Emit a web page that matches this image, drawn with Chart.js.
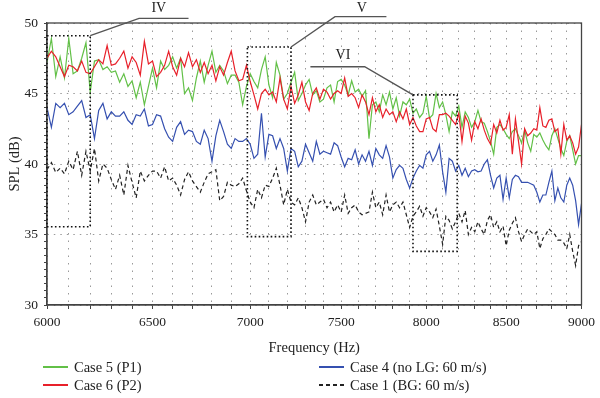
<!DOCTYPE html>
<html>
<head>
<meta charset="utf-8">
<script src="https://cdn.jsdelivr.net/npm/chart.js@4.4.0/dist/chart.umd.min.js"></script>
<style>
  html, body { margin: 0; padding: 0; background: #fff; }
  #wrap { position: relative; width: 600px; height: 398px; }
  #legend { position: absolute; left: 0; top: 0; width: 600px; height: 398px; pointer-events: none;
            font-family: "Liberation Serif", "DejaVu Serif", serif; font-size: 14.5px; color: #222; }
  .item { position: absolute; display: flex; align-items: center; height: 16px; white-space: nowrap; }
  .swatch { display: inline-block; width: 25px; height: 1.5px; margin-right: 6px; }
</style>
</head>
<body>
<div id="wrap">
  <canvas id="chart" width="600" height="398"></canvas>
  <div id="legend"></div>
</div>
<script>
// ==============================
// Data
// ==============================
const freqs = [
  6000, 6020, 6040, 6060, 6080, 6100, 6120, 6140, 6160, 6180,
  6200, 6220, 6240, 6260, 6280, 6300, 6320, 6340, 6360, 6380,
  6400, 6420, 6440, 6460, 6480, 6500, 6520, 6540, 6560, 6580,
  6600, 6620, 6640, 6660, 6680, 6700, 6720, 6740, 6760, 6780,
  6800, 6820, 6840, 6860, 6880, 6900, 6920, 6940, 6960, 6980,
  7000, 7020, 7040, 7060, 7080, 7100, 7120, 7140, 7160, 7180,
  7200, 7220, 7240, 7260, 7280, 7300, 7320, 7340, 7360, 7380,
  7400, 7420, 7440, 7460, 7480, 7500, 7520, 7540, 7560, 7580,
  7600, 7620, 7640, 7660, 7680, 7700, 7720, 7740, 7760, 7780,
  7800, 7820, 7840, 7860, 7880, 7900, 7920, 7940, 7960, 7980,
  8000, 8020, 8040, 8060, 8080, 8100, 8120, 8140, 8160, 8180,
  8200, 8220, 8240, 8260, 8280, 8300, 8320, 8340, 8360, 8380,
  8400, 8420, 8440, 8460, 8480, 8500, 8520, 8540, 8560, 8580,
  8600, 8620, 8640, 8660, 8680, 8700, 8720, 8740, 8760, 8780,
  8800, 8820, 8840, 8860, 8880, 8900, 8920, 8940, 8960, 8980,
  9000
];

// Case 5 (P1) - green
const case5 = [
  47.2, 48.9, 46.2, 47.6, 46.1, 48.9,
  46.4, 46.6, 47.5, 48.6, 45.1,
  47.3, 47.4, 46.7, 46.9, 46.5,
  46.6, 45.8, 46.4, 45.5, 45.9,
  44.7, 45.8, 44.2, 45.5, 46.8,
  45.4, 47.3, 46.7, 47.0, 47.6,
  46.8, 47.5, 45.0, 45.4, 44.5,
  46.1, 47.3, 45.8, 47.0, 48.0,
  46.5, 47.0, 46.6, 45.7, 46.3,
  46.3, 45.8, 44.2, 45.5, 46.4,
  45.85, 45.4, 46.7, 47.6, 45.6,
  44.7, 47.2, 46.3, 44.6, 45.0,
  45.8, 46.5, 44.5, 45.0, 45.6,
  46.0, 44.9, 45.2, 44.4, 44.6,
  45.4, 45.6, 44.4, 45.85, 46.0,
  45.6, 44.9, 45.9, 45.1, 45.3,
  44.8, 45.2, 41.8, 44.2, 44.4,
  43.7, 44.9, 44.2, 45.1, 43.9,
  44.7, 43.4, 44.4, 44.2, 44.6,
  43.6, 43.9, 43.3, 43.6, 44.8,
  43.25, 43.5, 45.0, 44.0, 44.4,
  43.5, 42.3, 43.7, 43.4, 44.1,
  42.6, 43.7, 43.3, 42.6, 43.0,
  43.8, 43.0, 42.9, 42.3, 41.6,
  40.7, 42.6, 42.8, 42.5, 42.1,
  41.8, 42.3, 42.5, 42.0, 41.5,
  42.4, 41.5, 40.9, 42.1, 41.9,
  42.2, 41.7, 41.3, 41.0, 42.0,
  42.5, 41.8, 41.1, 40.6, 41.6,
  42.0, 41.0, 40.0, 40.6, 40.6
];

// Case 6 (P2) - red
const case6 = [
  47.5, 48.0, 47.6, 46.9, 46.2, 47.0,
  46.9, 46.6, 47.3, 46.5, 46.4,
  46.9, 47.4, 47.1, 48.4, 47.0,
  47.1, 47.5, 48.0, 46.8, 47.6,
  47.2, 46.3, 48.7, 47.1, 47.3,
  46.2, 46.5, 47.0, 48.0, 46.9,
  46.3, 47.5, 46.9, 47.9, 46.9,
  47.4, 46.5, 47.2, 46.4, 47.0,
  45.9, 46.9, 46.3, 47.2, 48.0,
  46.6, 45.9, 46.0, 47.0, 45.85,
  44.9, 43.9, 45.0, 45.3, 44.9,
  45.1, 44.4, 46.1, 44.6, 43.9,
  45.5, 44.3, 44.9, 45.8, 44.4,
  43.8, 45.0, 45.4, 44.6, 45.3,
  45.1, 44.6, 45.0, 45.2, 45.0,
  46.1, 44.8, 45.0, 44.7, 44.0,
  44.9, 44.4, 43.5, 44.7, 43.7,
  44.2, 43.3, 43.9, 43.5, 43.7,
  43.0, 43.7, 43.2, 43.9, 42.8,
  43.3, 42.7, 42.3, 42.3, 43.2,
  43.3, 42.5, 42.3, 43.5, 43.5,
  43.6, 43.4, 43.1, 42.8, 43.6,
  41.6, 43.4, 42.9, 41.7, 43.0,
  42.5, 43.2, 42.4, 41.8, 41.4,
  42.8, 42.2, 43.1, 42.4, 42.6,
  43.5, 40.7, 43.2, 41.6, 40.0,
  42.5, 42.0, 42.2, 42.5, 42.4,
  44.0, 42.7, 42.6, 43.1, 43.2,
  42.3, 42.5, 40.7, 42.8, 41.7,
  42.0, 41.5, 40.7, 41.2, 42.8
];

// Case 4 (no LG: 60 m/s) - blue
const case4 = [
  44.0, 42.6, 44.3, 44.0, 44.3, 43.5,
  43.7, 44.1, 44.5, 43.3, 43.5,
  41.8, 43.8, 44.3, 43.2, 43.7,
  43.4, 43.4, 43.7, 43.1, 42.8,
  43.5, 43.4, 43.9, 42.7, 42.8,
  43.5, 43.4, 42.5, 41.9, 41.6,
  42.6, 43.0, 42.1, 42.4, 42.3,
  41.6, 41.4, 42.4, 41.8, 40.2,
  42.0, 43.1, 42.3, 41.4, 41.1,
  41.8, 41.6, 41.6, 41.8, 41.4,
  40.4, 40.7, 43.6, 40.5, 42.1,
  42.0, 41.1, 41.8, 41.1, 39.5,
  41.1, 40.9, 39.8, 40.2, 41.4,
  40.8, 40.2, 41.6, 40.7, 40.9,
  40.8, 40.7, 41.5, 41.3, 40.5,
  39.8, 40.4, 40.3, 41.0, 40.0,
  40.65, 40.2, 40.9, 39.9, 41.1,
  40.65, 40.4, 41.3, 40.5, 39.0,
  39.6, 39.9, 39.7, 38.9, 38.3,
  39.0, 39.5, 39.9, 39.7, 40.65,
  40.9, 40.2, 40.65, 41.35, 39.45,
  38.0, 40.4, 40.2, 39.5, 39.9,
  39.2, 39.7, 39.1, 39.5, 39.6,
  39.45, 39.5, 40.0, 40.3, 39.2,
  38.3, 39.0, 39.2, 37.5, 39.0,
  37.6, 38.9, 39.2, 39.1, 38.7,
  38.7, 38.7, 38.6, 38.5, 38.0,
  37.3, 37.8, 37.8, 38.7, 39.5,
  37.4, 38.3, 37.6, 37.3, 38.5,
  39.0, 38.5, 37.4, 35.7, 37.2
];

// Case 1 (BG: 60 m/s) - black dashed
const case1 = [
  39.6, 40.1, 39.4, 39.7, 39.3, 40.2,
  39.6, 40.9, 39.2, 40.9, 39.5,
  41.1, 38.8, 40.0, 39.7, 38.9,
  38.2, 39.2, 37.8, 39.9, 38.7,
  37.6, 39.5, 38.8, 39.2, 39.5,
  39.5, 39.0, 39.8, 38.8, 39.0,
  38.5, 37.8, 38.9, 39.45, 38.8,
  38.4, 38.0, 38.7, 39.3, 39.45,
  39.6, 37.4, 37.7, 38.7, 38.5,
  38.4, 38.6, 39.0, 38.1, 37.3,
  36.9, 38.2, 37.6, 38.5, 38.4,
  39.0, 39.7, 38.5, 37.1, 38.2,
  37.3, 37.1, 37.6, 36.9, 35.9,
  37.3, 37.8, 37.1, 37.3, 37.5,
  36.9, 37.3, 36.6, 37.1, 36.6,
  37.8, 36.5, 36.9, 37.1, 36.6,
  36.4, 36.5, 36.6, 38.0, 36.9,
  37.3, 36.4, 37.8, 36.6, 37.1,
  37.3, 36.9, 37.3, 36.4, 35.5,
  36.3, 36.6, 37.0, 36.3, 36.9,
  36.6, 36.2, 36.8, 35.6, 34.3,
  36.3, 36.0, 35.4, 35.9, 36.5,
  35.9, 36.7, 35.0, 35.5, 35.2,
  35.9, 35.4, 35.0, 36.0, 36.4,
  35.5, 35.9, 35.2, 35.6, 34.2,
  35.3, 35.8, 36.2, 35.2, 34.5,
  35.0, 35.4, 35.2, 35.0, 35.2,
  34.0, 34.7, 35.0, 35.4, 35.2,
  35.0, 34.6, 34.6, 34.4, 34.0,
  35.0, 33.8, 32.8, 34.2, 34.5
];

// Axis ticks
const xTicks = [
  6000, 6100, 6200, 6300, 6400, 6500, 6600, 6700, 6800, 6900,
  7000, 7100, 7200, 7300, 7400, 7500, 7600, 7700, 7800, 7900,
  8000, 8100, 8200, 8300, 8400, 8500, 8600, 8700, 8800, 8900, 9000
];
const xLabels = [6000, 6500, 7000, 7500, 8000, 8500, 9000];
const yLabels = [30, 35, 40, 45, 50];

// Zoom boxes IV, V, VI (Hz / dB) and their leader lines
const boxNames = ["IV", "V", "VI"];
const boxFreq = [[6000, 6200], [6985, 7220], [7920, 8190]];
const boxDb = [[35.55, 49.1], [34.85, 48.3], [33.8, 44.9]];
const leaderFreq = [[6200, 6434, 6680], [7220, 7465, 7762], [7920, 7635, 7327]];
const leaderDb = [[49.1, 50.33, 50.33], [48.3, 50.45, 50.45], [44.9, 46.9, 46.9]];
const nameFreq = [6531, 7618, 7510];
const nameDb = [51.05, 51.05, 47.7];

// ==============================
// Styles
// ==============================
const FONT = '"Liberation Serif", "DejaVu Serif", serif';
const series = [
  { label: "Case 5 (P1)", values: case5, color: "#62c047", dash: [] },
  { label: "Case 6 (P2)", values: case6, color: "#e8202a", dash: [] },
  { label: "Case 4 (no LG: 60 m/s)", values: case4, color: "#3550b0", dash: [] },
  { label: "Case 1 (BG: 60 m/s)", values: case1, color: "#222222", dash: [4, 3] }
];

// ==============================
// Plugins: frame + zoom boxes
// ==============================
const framePlugin = {
  id: "frame",
  afterDraw(chart) {
    const { ctx, chartArea: a } = chart;
    ctx.save();
    ctx.strokeStyle = "#444";
    ctx.lineWidth = 1.3;
    ctx.setLineDash([]);
    ctx.strokeRect(a.left, a.top, a.right - a.left, a.bottom - a.top);
    ctx.restore();
  }
};

const boxesPlugin = {
  id: "boxes",
  afterDraw(chart) {
    const { ctx } = chart;
    const xs = chart.scales.x, ys = chart.scales.y;
    ctx.save();
    boxNames.forEach((name, i) => {
      const x1 = xs.getPixelForValue(boxFreq[i][0]), x2 = xs.getPixelForValue(boxFreq[i][1]);
      const y1 = ys.getPixelForValue(boxDb[i][1]), y2 = ys.getPixelForValue(boxDb[i][0]);
      ctx.strokeStyle = "#111";
      ctx.lineWidth = 1.6;
      ctx.setLineDash([1.6, 2.4]);
      ctx.strokeRect(x1, y1, x2 - x1, y2 - y1);

      ctx.setLineDash([]);
      ctx.strokeStyle = "#555";
      ctx.lineWidth = 1.4;
      ctx.beginPath();
      leaderFreq[i].forEach((f, k) => {
        const px = xs.getPixelForValue(f), py = ys.getPixelForValue(leaderDb[i][k]);
        if (k === 0) ctx.moveTo(px, py); else ctx.lineTo(px, py);
      });
      ctx.stroke();

      ctx.fillStyle = "#222";
      ctx.font = "14px " + FONT;
      ctx.textAlign = "center";
      ctx.textBaseline = "middle";
      ctx.fillText(name, xs.getPixelForValue(nameFreq[i]), ys.getPixelForValue(nameDb[i]));
    });
    ctx.restore();
  }
};

// ==============================
// Chart
// ==============================
const datasets = series.map((s, i) => ({
  label: s.label,
  data: freqs.map((f, k) => ({ x: f, y: s.values[k] })),
  borderColor: s.color,
  borderWidth: 1.2,
  borderDash: s.dash,
  pointRadius: 0,
  tension: 0,
  fill: false,
  order: [2, 1, 3, 4][i]
}));

new Chart(document.getElementById("chart"), {
  type: "line",
  data: { datasets },
  options: {
    responsive: false,
    animation: false,
    layout: { padding: { left: 0, right: 14, top: 23, bottom: 0 } },
    plugins: { legend: { display: false }, tooltip: { enabled: false } },
    scales: {
      x: {
        type: "logarithmic",
        min: 6000, max: 9000,
        afterBuildTicks: s => { s.ticks = xTicks.map(v => ({ value: v })); },
        afterFit: s => { s.height = 93; },
        ticks: {
          autoSkip: false, maxRotation: 0, padding: 5,
          color: "#222", font: { family: FONT, size: 13.5 },
          callback: v => xLabels.includes(v) ? String(v) : ""
        },
        grid: { color: "#9a9a9a", lineWidth: 1, tickColor: "#444", tickLength: 4 },
        border: { display: true, color: "#444", width: 1.3, dash: [1.5, 6] },
        title: {
          display: true, text: "Frequency (Hz)", color: "#222",
          font: { family: FONT, size: 14.5 }, padding: { top: 0, bottom: 41 }
        }
      },
      y: {
        min: 30, max: 50,
        afterFit: s => { s.width = 47; },
        ticks: {
          stepSize: 0.5, autoSkip: false, maxTicksLimit: 100, padding: 6,
          color: "#222", font: { family: FONT, size: 13.5 },
          callback: v => yLabels.includes(v) ? String(v) : ""
        },
        grid: {
          color: c => (c.tick && yLabels.includes(c.tick.value)) ? "#9a9a9a" : "rgba(0,0,0,0)",
          lineWidth: 1, tickColor: "#444", tickLength: 3
        },
        border: { display: true, color: "#444", width: 1.3, dash: [1.5, 5] },
        title: {
          display: true, text: "SPL (dB)", color: "#222",
          font: { family: FONT, size: 14.5 }, padding: { top: 6, bottom: 0 }
        }
      }
    }
  },
  plugins: [framePlugin, boxesPlugin]
});

// ==============================
// Legend (two columns under the axis title)
// ==============================
const legendPos = [[43, 359], [43, 377], [319, 359], [319, 377]];
const legendEl = document.getElementById("legend");
series.forEach((s, i) => {
  const item = document.createElement("div");
  item.className = "item";
  item.style.left = legendPos[i][0] + "px";
  item.style.top = legendPos[i][1] + "px";
  const sw = document.createElement("span");
  sw.className = "swatch";
  sw.style.background = s.dash.length
    ? `repeating-linear-gradient(to right, ${s.color} 0 4px, transparent 4px 7px)`
    : s.color;
  const txt = document.createElement("span");
  txt.textContent = s.label;
  item.appendChild(sw);
  item.appendChild(txt);
  legendEl.appendChild(item);
});
</script>
</body>
</html>
